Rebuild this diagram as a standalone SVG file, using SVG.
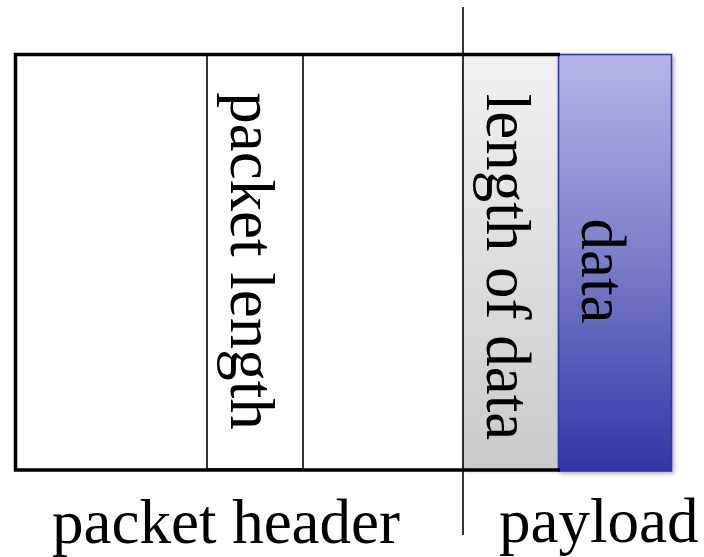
<svg xmlns="http://www.w3.org/2000/svg" width="704" height="557" viewBox="0 0 704 557">
<style>
.lbl{font-size:63px;fill:#000}
.frame{stroke:#000;stroke-width:3.5;fill:none}
.thin{stroke:#000;stroke-width:1.6;fill:none}
</style>
<defs>
<linearGradient id="gGray" x1="0" y1="0" x2="0" y2="1">
<stop offset="0" stop-color="#f1f1f1"/>
<stop offset="1" stop-color="#cacaca"/>
</linearGradient>
<linearGradient id="gBlue" x1="0" y1="0" x2="0" y2="1">
<stop offset="0" stop-color="#b5b5e8"/>
<stop offset="0.5" stop-color="#7a7cc8"/>
<stop offset="1" stop-color="#2f37a7"/>
</linearGradient>
<filter id="sh" x="-20%" y="-5%" width="140%" height="110%">
<feDropShadow dx="2" dy="2" stdDeviation="2" flood-color="#000" flood-opacity="0.3"/>
</filter>
</defs>
<rect width="704" height="557" fill="#fff"/>
<g font-family="Liberation Serif, DejaVu Serif, serif">
<g id="packet-length">
<rect x="207" y="55" width="96" height="414" fill="#c4e5e8" class="thin"/>
<text class="lbl" transform="translate(231,261) rotate(90)" text-anchor="middle">packet length</text>
</g>
<g id="length-of-data">
<rect x="463" y="55" width="95" height="414" fill="url(#gGray)" filter="url(#sh)"/>
<text class="lbl" transform="translate(487,267) rotate(90)" text-anchor="middle">length of data</text>
</g>
<g id="data">
<rect x="558.5" y="54.5" width="113" height="416.5" fill="url(#gBlue)" stroke="#2e3a9c" stroke-width="1.6" filter="url(#sh)"/>
<text class="lbl" transform="translate(582,271) rotate(90)" text-anchor="middle">data</text>
</g>
<g id="header-frame">
<path class="frame" d="M560 54.5 H15.5 V470 H560"/>
</g>
<g id="connectors">
<line class="thin" x1="463" y1="7" x2="463" y2="535"/>
</g>
<g id="labels">
<text class="lbl" x="52" y="543">packet header</text>
<text class="lbl" x="499" y="542">payload</text>
</g>
</g>
</svg>
